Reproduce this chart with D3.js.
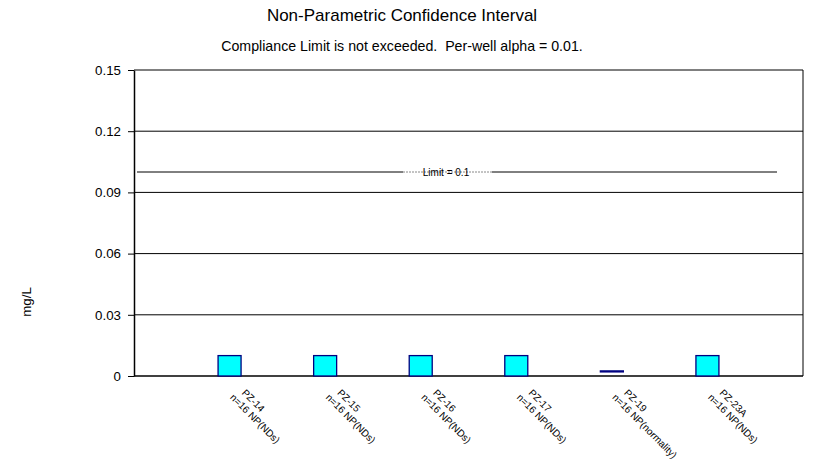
<!DOCTYPE html>
<html><head><meta charset="utf-8">
<script src="https://cdn.jsdelivr.net/npm/d3@7"></script>
<style>body{margin:0;background:#fff}svg{display:block}text{font-family:"Liberation Sans",Arial,sans-serif;fill:#000;white-space:pre}</style>
</head><body>
<svg id="c" width="813" height="469"></svg>
<script>
const wells = ["PZ-14","PZ-15","PZ-16","PZ-17","PZ-19","PZ-23A"];
const subLabels = ["n=16 NP(NDs)","n=16 NP(NDs)","n=16 NP(NDs)","n=16 NP(NDs)","n=16 NP(normality)","n=16 NP(NDs)"];
const lower = [0, 0, 0, 0, 0.002, 0];
const upper = [0.01, 0.01, 0.01, 0.01, 0.0025, 0.01];
const yTicks = [0, 0.03, 0.06, 0.09, 0.12, 0.15];
const yTickLabels = ["0","0.03","0.06","0.09","0.12","0.15"];
const limit = 0.1;
const title = "Non-Parametric Confidence Interval";
const subtitle = "Compliance Limit is not exceeded.  Per-well alpha = 0.01.";

const svg = d3.select("#c");
const L = 134, R = 803, T = 70, B = 376;
const x = d3.scalePoint().domain(wells).range([L, R]).padding(1);
const y = d3.scaleLinear().domain([0, 0.15]).range([B, T]);

svg.append("text").attr("x", 402).attr("y", 21).attr("text-anchor","middle").attr("font-size", 17).text(title);
svg.append("text").attr("x", 402).attr("y", 51).attr("text-anchor","middle").attr("font-size", 14.2).text(subtitle);

// gridlines
svg.append("g").selectAll("line").data(yTicks.slice(1)).join("line")
  .attr("x1", L).attr("x2", R).attr("y1", d => y(d)).attr("y2", d => y(d))
  .attr("stroke", "#000").attr("stroke-width", 1);

// frame right
svg.append("line").attr("x1", R).attr("x2", R).attr("y1", T).attr("y2", B).attr("stroke","#000");

// y axis
const ya = svg.append("g").attr("transform", `translate(${L},0)`)
  .call(d3.axisLeft(y).tickValues(yTicks).tickFormat((d,i) => yTickLabels[i]).tickSizeInner(6).tickSizeOuter(0).tickPadding(7));
ya.select(".domain").attr("stroke","#000").attr("stroke-width",1.5);
ya.selectAll("text").attr("font-size", 13.3).attr("font-family",'"Liberation Sans",Arial,sans-serif');

// x axis baseline
svg.append("line").attr("x1", L).attr("x2", R).attr("y1", B).attr("y2", B).attr("stroke","#000").attr("stroke-width",1.5);

// limit line
const ly = y(limit);
const limX1 = L + 3, limX2 = 777, gapA = 403, gapB = 492;
svg.append("line").attr("x1", limX1).attr("x2", gapA).attr("y1", ly).attr("y2", ly).attr("stroke","#000");
svg.append("line").attr("x1", gapB).attr("x2", limX2).attr("y1", ly).attr("y2", ly).attr("stroke","#000");
svg.append("line").attr("x1", gapA).attr("x2", gapB).attr("y1", ly).attr("y2", ly).attr("stroke","#888").attr("stroke-dasharray","2,1");
svg.append("text").attr("x", 446).attr("y", ly + 3.5).attr("text-anchor","middle").attr("font-size", 10).text("Limit = " + limit);

// bars
const bw = 23;
svg.append("g").selectAll("rect").data(wells).join("rect")
  .attr("x", d => x(d) - bw/2)
  .attr("y", (d,i) => y(upper[i]))
  .attr("width", bw)
  .attr("height", (d,i) => Math.max(0.5, y(lower[i]) - y(upper[i])))
  .attr("fill", "#00FFFF").attr("stroke", "#000080").attr("stroke-width", 1.3);

// x labels
const lab = svg.append("g").selectAll("g").data(wells).join("g")
  .attr("transform", d => `translate(${x(d)},398) rotate(45)`);
lab.append("text").attr("x", 5).attr("y", -11.5).attr("font-size", 10).text(d => d);
lab.append("text").attr("x", 0).attr("y", 0).attr("font-size", 10).text((d,i) => subLabels[i]);

// y title
svg.append("text").attr("transform","translate(31,302) rotate(-90)").attr("text-anchor","middle").attr("font-size", 13.3).text("mg/L");
</script>
</body></html>
